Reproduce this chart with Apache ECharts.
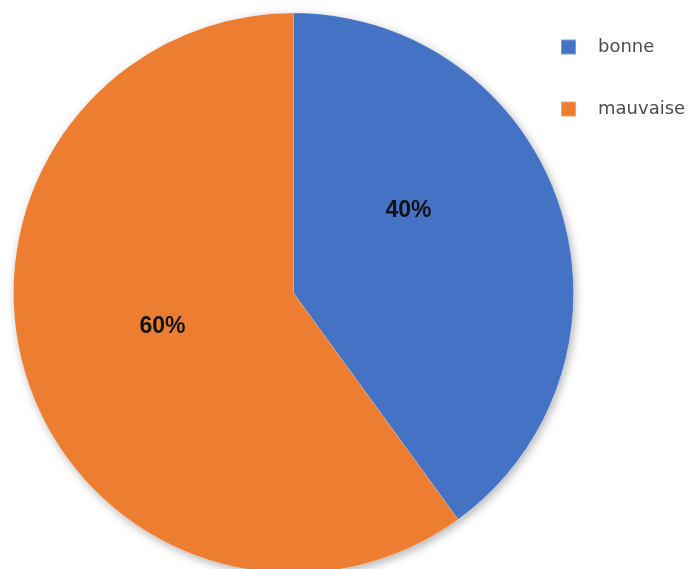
<!DOCTYPE html>
<html>
<head>
<meta charset="utf-8">
<script src="https://cdn.jsdelivr.net/npm/echarts@6/dist/echarts.min.js"></script>
<style>
  html, body { margin: 0; padding: 0; background: #fff; }
  #chart { width: 692px; height: 569px; }
</style>
</head>
<body>
<div id="chart"></div>
<script>
  const categories = ['bonne', 'mauvaise']
  const values = [40, 60]
  const colors = ['#4472C4', '#ED7D31']
  // Excel ne place pas les étiquettes au milieu des parts : petit décalage
  const labelOffsets = [[-21, -38], [5, -11]]

  const chart = echarts.init(document.getElementById('chart'))
  const pieBase = {
    type: 'pie',
    center: [293.5, 293],
    radius: 280,
    startAngle: 90,
    clockwise: true,
    labelLine: { show: false },
    emphasis: { disabled: true }
  }
  chart.setOption({
    animation: false,
    legend: {
      orient: 'vertical',
      left: 560,
      top: 38,
      padding: 0,
      itemWidth: 15,
      itemHeight: 15,
      itemGap: 44,
      icon: 'rect',
      data: categories,
      textStyle: {
        fontFamily: 'DejaVu Sans',
        fontSize: 18,
        color: '#4d4d4d',
        padding: [0, 0, 0, 17]
      }
    },
    series: [
      // ombre portée sous le camembert
      Object.assign({}, pieBase, {
        silent: true,
        legendHoverLink: false,
        data: values.map(v => ({ value: v })),
        itemStyle: {
          color: '#fff',
          shadowBlur: 10,
          shadowOffsetX: 2,
          shadowOffsetY: 3,
          shadowColor: 'rgba(0,0,0,0.3)'
        },
        label: { show: false }
      }),
      Object.assign({}, pieBase, {
        data: categories.map((name, i) => ({
          name: name,
          value: values[i],
          itemStyle: { color: colors[i] },
          label: { offset: labelOffsets[i] }
        })),
        itemStyle: {
          borderColor: 'rgba(255,255,255,0.3)',
          borderWidth: 0.5
        },
        label: {
          show: true,
          position: 'inside',
          formatter: '{d}%',
          fontFamily: 'Liberation Sans',
          fontWeight: 'bold',
          fontSize: 23,
          color: '#111'
        }
      })
    ]
  })
</script>
</body>
</html>
